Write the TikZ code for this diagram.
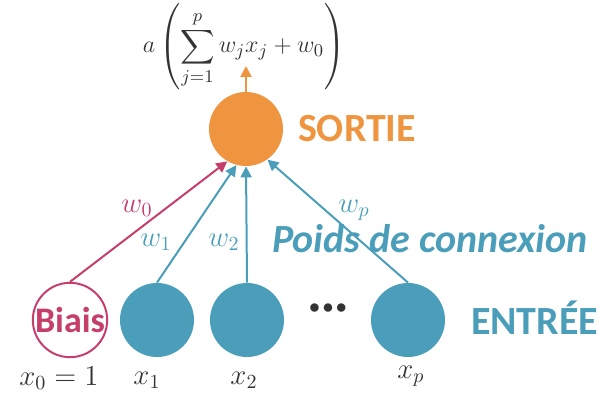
\documentclass[tikz,border=0pt]{standalone}
\usepackage{amsmath}
\usepackage{fontspec}
\setsansfont{Carlito}
\usetikzlibrary{arrows.meta,positioning}
\definecolor{orng}{HTML}{F0953F}
\definecolor{teal}{HTML}{4A9EBA}
\definecolor{rose}{HTML}{C63F6B}
\definecolor{ink}{HTML}{333333}
\tikzset{unit/.style={circle,minimum size=37pt,inner sep=0pt},
lien/.style={-{Triangle[length=5.5pt,width=5.5pt]},line width=1pt},
lab/.style={font=\fontsize{14}{16}\selectfont,text=ink},
titre/.style={font=\sffamily\bfseries\fontsize{20}{24}\selectfont}}

\begin{document}
\begin{tikzpicture}[x=0.5pt,y=-0.5pt]
\useasboundingbox (0,0) rectangle (598,394);
\node[unit,fill=orng] (out) at (246,129) {};
\node[titre,text=orng,anchor=west] (sortie) at (291,129) {SORTIE};
\node[lab,font=\fontsize{12.2}{14}\selectfont] (formule) at (244,47) {$\displaystyle a\left(\sum_{j=1}^{p} w_jx_j+w_0\right)$};
\coordinate (fin) at (246,66);
\node[unit,draw=rose,line width=1pt,text=rose,font=\sffamily\bfseries\fontsize{18}{20}\selectfont] (b) at (70,320) {Biais};
\node[unit,fill=teal] (x1) at (157,320) {};
\node[unit,fill=teal] (x2) at (247,320) {};
\node[unit,fill=teal] (xp) at (408,320) {};
\node[font=\fontsize{11}{11}\selectfont,text=ink] (dots) at (328,309) {${\bullet}\mkern2mu{\bullet}\mkern2mu{\bullet}$};
\node[titre,text=teal,anchor=west] (entree) at (464,318) {ENTRÉE};
\node[font=\sffamily\bfseries\itshape\fontsize{20}{22}\selectfont,text=teal] (poids) at (430,239) {Poids de connexion};
\node[lab] (l0) at (59,378) {$x_0=1$};
\node[lab] (l1) at (147,380) {$x_1$};
\node[lab] (l2) at (244,380) {$x_2$};
\node[lab] (lp) at (411,376) {$x_p$};
\node[lab,text=rose] (w0) at (137,208) {$w_0$};
\node[lab,text=teal] (w1) at (156,242) {$w_1$};
\node[lab,text=teal] (w2) at (224,242) {$w_2$};
\node[lab,text=teal] (wp) at (354,210) {$w_p$};
\draw[lien,rose] (b.north) -- (out.240);
\draw[lien,teal] (x1.north) -- (out.255);
\draw[lien,teal] (x2.north) -- (out.south);
\draw[lien,teal] (xp.north) -- (out.305);
\draw[lien,orng] (out.north) -- (fin);
\end{tikzpicture}
\end{document}
